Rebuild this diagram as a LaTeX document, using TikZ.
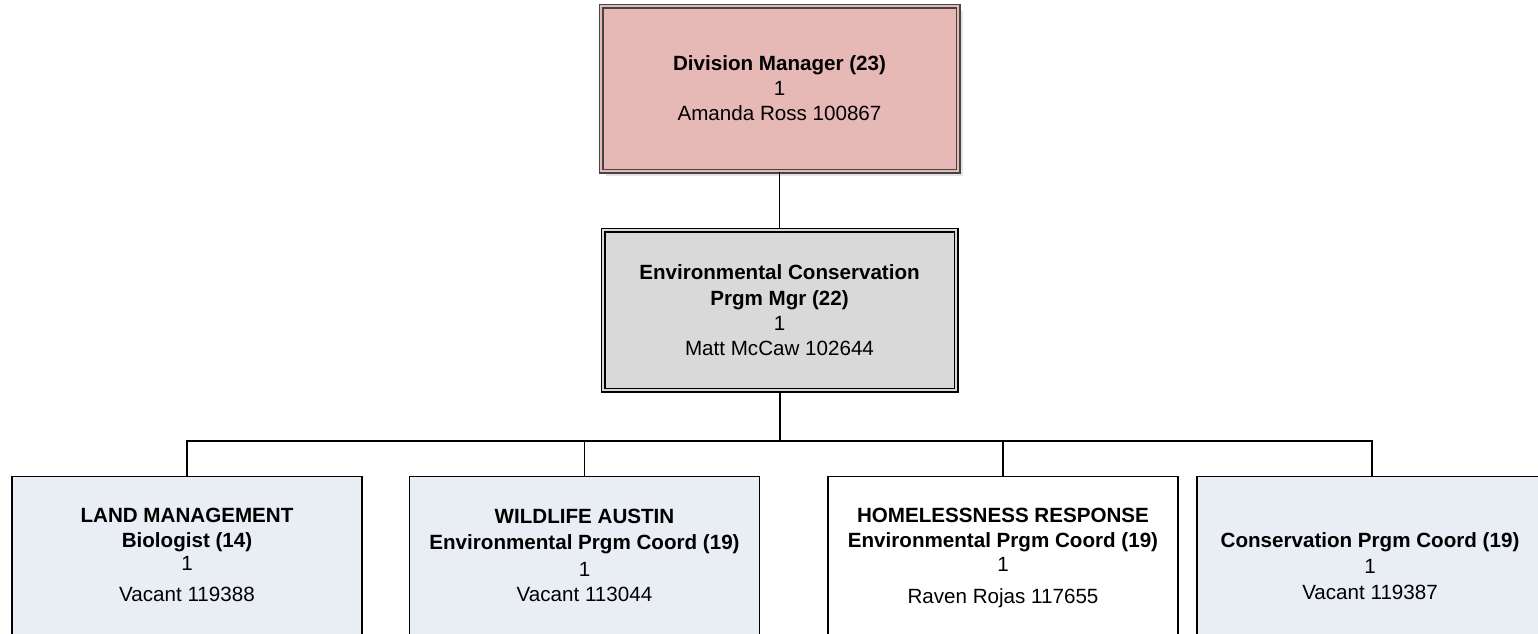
\documentclass[tikz,border=0pt]{standalone}
\usepackage{fontspec}
\setmainfont{Liberation Sans}
\usetikzlibrary{shadows}
\definecolor{topfill}{HTML}{E6B8B6}
\definecolor{topline}{HTML}{454545}
\definecolor{midfill}{HTML}{D9D9D9}
\definecolor{lowfill}{HTML}{E9EDF4}
\definecolor{shadowgray}{HTML}{E3E3E3}
\tikzset{
  txt/.style={inner sep=0pt, text height=14.7pt, text depth=0pt, font=\fontsize{20.6}{24}\selectfont},
  btxt/.style={txt, font=\fontsize{20.6}{24}\selectfont\bfseries},
  topbox/.style={draw=topline, line width=1.5pt, double=topfill, double distance=2pt, fill=topfill,
     minimum width=357pt, minimum height=165pt, inner sep=0pt,
     drop shadow={shadow xshift=5pt, shadow yshift=-5pt, fill=shadowgray, opacity=1}},
  midbox/.style={draw=black, line width=1.4pt, double=midfill, double distance=2.2pt, fill=midfill,
     minimum width=353pt, minimum height=160pt, inner sep=0pt},
  lowbox/.style={draw=black, line width=1.3pt, minimum width=350pt, minimum height=200pt, inner sep=0pt, anchor=north},
  conn/.style={draw=black, line width=1.3pt},
}
\begin{document}
\begin{tikzpicture}[x=1pt, y=-1pt]
\useasboundingbox (0,0) rectangle (1538,633);
\clip (0,0) rectangle (1538,633);
% boxes
\node[topbox] (top) at (779.5,88.5) {};
\node[midbox] (mid) at (779.5,310) {};
\node[lowbox, fill=lowfill] (b1) at (187,476) {};
\node[lowbox, fill=lowfill] (b2) at (584.5,476) {};
\node[lowbox, fill=white] (b3) at (1003,476) {};
\node[lowbox, fill=lowfill] (b4) at (1372,476) {};
% connectors
\coordinate (bus) at (779.5,441);
\draw[conn] (top.south) -- (mid.north);
\draw[conn, line width=2pt] (mid.south) -- (bus);
\draw[conn] (b1.north) |- (bus) -| (b4.north);
\draw[conn] (b2.north) -- (b2.north |- bus);
\draw[conn] (b3.north) -- (b3.north |- bus);
% top text
\node[btxt] (t1) at (779.5,63) {Division Manager (23)};
\node[txt] (t2) at (779.5,88) {1};
\node[txt] (t3) at (779.5,113) {Amanda Ross 100867};
% mid text
\node[btxt] (m1) at (779.5,272) {Environmental Conservation};
\node[btxt] (m2) at (779.5,298) {Prgm Mgr (22)};
\node[txt] (m3) at (779.5,323) {1};
\node[txt] (m4) at (779.5,348) {Matt McCaw 102644};
% box 1
\node[btxt] (a1) at (187,515) {LAND MANAGEMENT};
\node[btxt] (a2) at (187,540) {Biologist (14)};
\node[txt] (a3) at (187,563) {1};
\node[txt] (a4) at (187,594) {Vacant 119388};
% box 2
\node[btxt] (c1) at (584.5,516) {WILDLIFE AUSTIN};
\node[btxt] (c2) at (584.5,542) {Environmental Prgm Coord (19)};
\node[txt] (c3) at (584.5,569) {1};
\node[txt] (c4) at (584.5,594) {Vacant 113044};
% box 3
\node[btxt] (d1) at (1003,515) {HOMELESSNESS RESPONSE};
\node[btxt] (d2) at (1003,540) {Environmental Prgm Coord (19)};
\node[txt] (d3) at (1003,564) {1};
\node[txt] (d4) at (1003,596) {Raven Rojas 117655};
% box 4
\node[btxt] (e1) at (1370,540) {Conservation Prgm Coord (19)};
\node[txt] (e2) at (1370,566) {1};
\node[txt] (e3) at (1370,592) {Vacant 119387};
\end{tikzpicture}
\end{document}
